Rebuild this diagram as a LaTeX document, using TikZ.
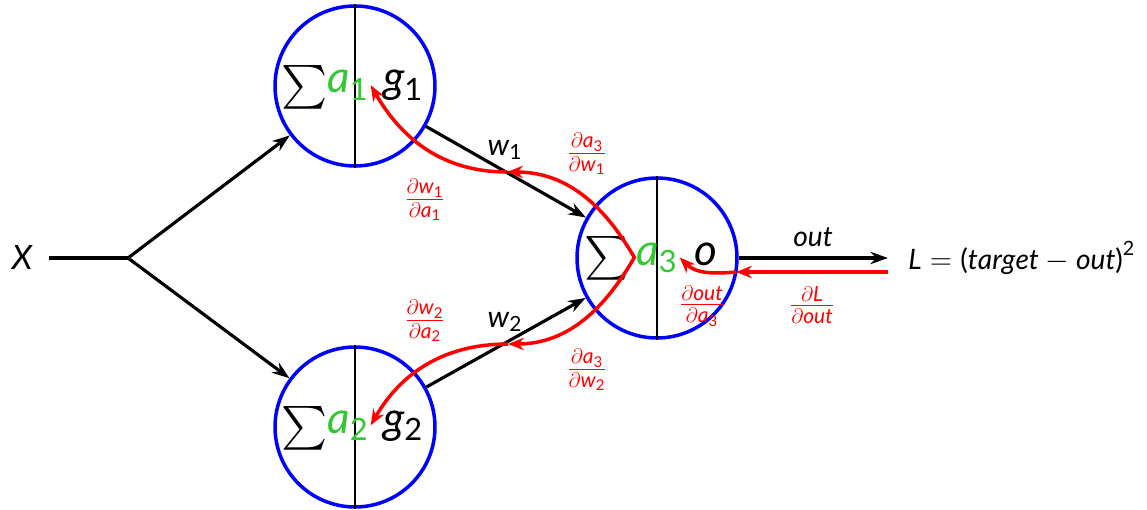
\documentclass[tikz,border=0pt]{standalone}
\usepackage{amsmath}
\usepackage{fontspec}
\setmainfont{Lato}
\usetikzlibrary{arrows.meta}
\definecolor{actgreen}{RGB}{50,200,50}
\newcommand{\ix}[1]{\text{\upshape #1}}

\begin{document}
\begin{tikzpicture}[
  x=0.02cm, y=-0.02cm,
  neuron/.style={
    draw=blue,
    line width=2pt,
    circle,
    inner sep=0pt,
    minimum size=3.2cm
  },
  sumsign/.style={font=\fontsize{27}{30}\selectfont, inner sep=0pt},
  actvar/.style={font=\fontsize{25}{28}\selectfont, text=actgreen, inner sep=1pt, anchor=base},
  outvar/.style={font=\fontsize{25}{28}\selectfont, inner sep=1pt, anchor=base},
  wlabel/.style={font=\fontsize{17}{20}\selectfont},
  grad/.style={font=\fontsize{17}{20}\selectfont, text=red},
  fwd/.style={-{Stealth[length=10pt,width=7pt]}, line width=1.8pt},
  bwd/.style={-{Stealth[length=9pt,width=7pt]}, draw=red, line width=2pt}
]
\useasboundingbox (0,0) rectangle (1147,510);

% neurons
\node[neuron] (n1) at (355,86) {};
\node[neuron] (n2) at (355,427) {};
\node[neuron] (n3) at (657,258) {};
\foreach \n in {n1,n2,n3}
  \draw[line width=0.6pt] (\n.north) -- (\n.south);

\node[sumsign] (s1) at (305,87) {$\textstyle\sum$};
\node[actvar] (a1) at (348,93) {$\mathit{a}_{\ix{1}}$};
\node[outvar] (g1) at (403,93) {$\mathit{g}_{\ix{1}}$};

\node[sumsign] (s2) at (305,428) {$\textstyle\sum$};
\node[actvar] (a2) at (348,433) {$\mathit{a}_{\ix{2}}$};
\node[outvar] (g2) at (403,433) {$\mathit{g}_{\ix{2}}$};

\node[sumsign] (s3) at (608,258) {$\textstyle\sum$};
\node[actvar] (a3) at (657,265) {$\mathit{a}_{\ix{3}}$};
\node[outvar] (o) at (706,265) {$\mathit{o}$};

% forward pass
\node[font=\fontsize{19}{22}\selectfont] (xin) at (22,258) {$\mathit{X}$};
\coordinate (split) at (128,258);
\draw[line width=1.8pt, shorten <=6pt] (xin) -- (split);
\draw[fwd] (split) -- (n1);
\draw[fwd] (split) -- (n2);
\draw[fwd] (n1) -- (n3);
\draw[fwd] (n2) -- (n3);
\node[wlabel] (w1) at (505,150) {$\mathit{w}_{\ix{1}}$};
\node[wlabel] (w2) at (505,322) {$\mathit{w}_{\ix{2}}$};

\node[font=\fontsize{16}{19}\selectfont, anchor=west, inner sep=0pt] (loss) at (908,258)
  {$\mathit{L}=\ix{(}\mathit{target}-\mathit{out}\ix{)}^{\ix{2}}$};
\coordinate (lossin) at (888,258);
\draw[fwd] (n3) -- (lossin);
\node[font=\fontsize{16}{19}\selectfont] (outlbl) at (813,237) {$\mathit{out}$};

% backward pass
\coordinate (lossback) at (888,272);
\coordinate (bk) at (736,272);
\coordinate (m1) at (507,172);
\coordinate (m2) at (508,344);
\draw[bwd] (lossback) -- (bk);
\draw[bwd] (bk) to[out=185, in=-45] (a3.east);
\draw[bwd, {Stealth[length=9pt,width=7pt]}-{Stealth[length=9pt,width=7pt]}, line join=miter]
  (m1) to[out=0, in=120] (a3.west) to[out=-120, in=0] (m2);
\draw[bwd] (m1) to[out=180, in=-60] (a1.east);
\draw[bwd] (m2) to[out=180, in=60] (a2.east);

\node[grad] (da3w1) at (587,154) {$\frac{\partial \mathit{a}_{\ix{3}}}{\partial \mathit{w}_{\ix{1}}}$};
\node[grad] (dw1a1) at (425,200) {$\frac{\partial \mathit{w}_{\ix{1}}}{\partial \mathit{a}_{\ix{1}}}$};
\node[grad] (dw2a2) at (425,321) {$\frac{\partial \mathit{w}_{\ix{2}}}{\partial \mathit{a}_{\ix{2}}}$};
\node[grad] (da3w2) at (587,370) {$\frac{\partial \mathit{a}_{\ix{3}}}{\partial \mathit{w}_{\ix{2}}}$};
\node[grad] (doa3) at (702,306) {$\frac{\partial \mathit{out}}{\partial \mathit{a}_{\ix{3}}}$};
\node[grad] (dLo) at (812,305) {$\frac{\partial \mathit{L}}{\partial \mathit{out}}$};

\end{tikzpicture}
\end{document}
